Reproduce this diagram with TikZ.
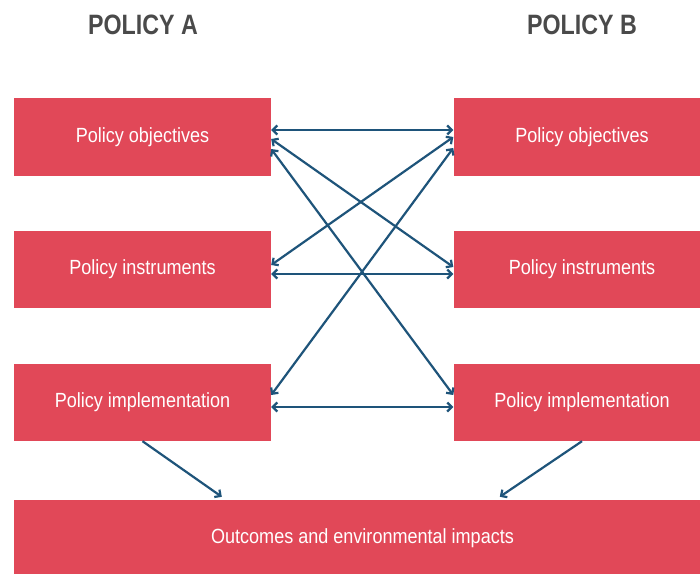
\documentclass[tikz,border=0pt]{standalone}
\usepackage{fontspec}
\setmainfont{Liberation Sans}
\newfontfamily\boxfont[FakeStretch=0.88]{Liberation Sans}
\newfontfamily\headfont[FakeStretch=0.83]{Liberation Sans}
\usetikzlibrary{arrows.meta,calc}
\definecolor{boxred}{RGB}{225,72,88}
\definecolor{linkblue}{RGB}{30,84,122}
\definecolor{headgray}{RGB}{74,74,74}
\tikzset{
  stagebox/.style={fill=boxred, draw=none, minimum width=257bp, minimum height=77bp,
    inner sep=0pt, text=white, font=\boxfont\fontsize{20.5bp}{23bp}\selectfont},
  heading/.style={text=headgray, font=\headfont\bfseries\fontsize{28bp}{32bp}\selectfont},
  tip/.style={Straight Barb[length=4.5bp,width=9bp]},
  link/.style={draw=linkblue, line width=2.2bp, {Straight Barb[length=4.5bp,width=9bp]}-{Straight Barb[length=4.5bp,width=9bp]}},
  feed/.style={draw=linkblue, line width=2.2bp, -{Straight Barb[length=4.5bp,width=9bp]}}
}
\begin{document}
\begin{tikzpicture}[x=1bp,y=-1bp]
  \clip (0,0) rectangle (700,574);
  \fill[white] (0,0) rectangle (700,574);

  % column headings
  \node[heading] (hA) at (143,25) {POLICY A};
  \node[heading] (hB) at (582,25) {POLICY B};

  % policy A stages
  \node[stagebox] (L1) at (142.5,137) {Policy objectives};
  \node[stagebox] (L2) at (142.5,269.5) {Policy instruments};
  \node[stagebox] (L3) at (142.5,402.5) {Policy implementation};

  % policy B stages
  \node[stagebox] (R1) at (582,137) {Policy objectives};
  \node[stagebox] (R2) at (582,269.5) {Policy instruments};
  \node[stagebox] (R3) at (582,402.5) {Policy implementation};

  % shared outcome
  \node[stagebox, minimum width=697bp, minimum height=76bp] (out) at (362.5,538) {Outcomes and environmental impacts};

  % links between the stages of the two policies
  \draw[link] ($(L1.east)+(0,-7)$) -- ($(R1.west)+(0,-7)$);
  \draw[link] ($(L1.east)+(0,2)$) -- ($(R2.west)+(0,-2.5)$);
  \draw[link] ($(L1.east)+(0,12)$) -- ($(R3.west)+(0,-7.5)$);
  \draw[link] ($(R1.west)+(0,0)$) -- ($(L2.east)+(0,-4.5)$);
  \draw[link] ($(R1.west)+(0,11)$) -- ($(L3.east)+(0,-7.5)$);
  \draw[link] ($(L2.east)+(0,4.5)$) -- ($(R2.west)+(0,4.5)$);
  \draw[link] ($(L3.east)+(0,4.5)$) -- ($(R3.west)+(0,4.5)$);

  % implementation feeds the outcomes
  \coordinate (outA) at ($(out.north west)+(208,-3)$);
  \coordinate (outB) at ($(out.north west)+(486,-3)$);
  \draw[feed] (L3.south) -- (outA);
  \draw[feed] (R3.south) -- (outB);
\end{tikzpicture}
\end{document}
